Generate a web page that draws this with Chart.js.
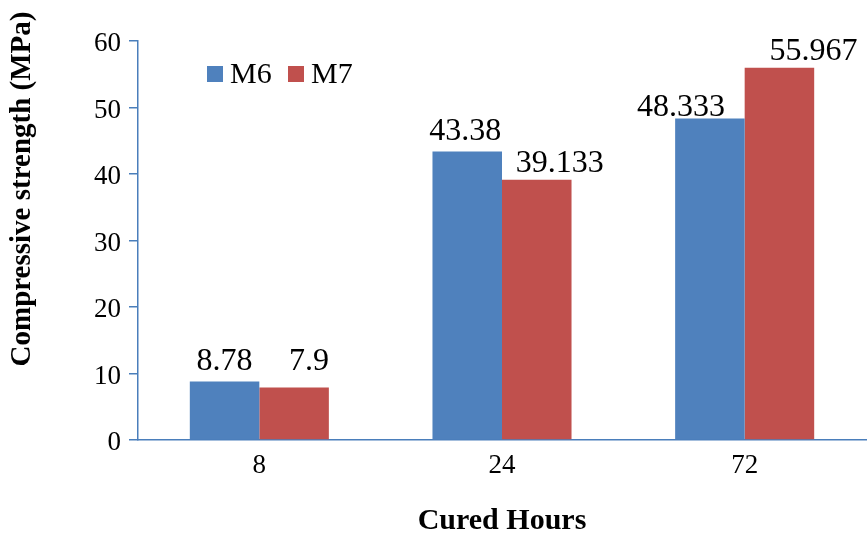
<!DOCTYPE html>
<html>
<head>
<meta charset="utf-8">
<script src="https://cdn.jsdelivr.net/npm/chart.js@4.4.1/dist/chart.umd.min.js"></script>
<style>
  html, body { margin: 0; padding: 0; background: #ffffff; }
  #wrap { width: 867px; height: 539px; }
</style>
</head>
<body>
<div id="wrap"><canvas id="c" width="867" height="539"></canvas></div>
<script>
// Curing time categories (hours)
const curedHours = ['8', '24', '72'];
// Compressive strength, MPa
const m6Values = [8.78, 43.38, 48.333];
const m7Values = [7.9, 39.133, 55.967];
// Printed value labels
const m6Labels = ['8.78', '43.38', '48.333'];
const m7Labels = ['7.9', '39.133', '55.967'];
// Y axis ticks
const yTicks = [0, 10, 20, 30, 40, 50, 60];

const SERIF = "'Liberation Serif', 'Times New Roman', serif";
const AXIS_BLUE = '#4A7EBB';
const BLUE = '#4F81BD';
const RED = '#C0504D';

// Nudges for the value labels (dx, gap above bar top), per series and category
const labelNudge = [
  [[0, 12], [-2, 12], [-29, 3]],
  [[15, 17], [23, 8], [34, 8]]
];
const seriesLabels = [m6Labels, m7Labels];

const valueLabels = {
  id: 'valueLabels',
  afterDatasetsDraw(chart) {
    const ctx = chart.ctx;
    ctx.save();
    ctx.font = '32px ' + SERIF;
    ctx.fillStyle = '#000000';
    ctx.textAlign = 'center';
    ctx.textBaseline = 'alphabetic';
    chart.data.datasets.forEach((ds, di) => {
      const meta = chart.getDatasetMeta(di);
      meta.data.forEach((bar, i) => {
        const [dx, gap] = labelNudge[di][i];
        ctx.fillText(seriesLabels[di][i], bar.x + dx, bar.y - gap);
      });
    });
    ctx.restore();
  }
};

// Legend placed inside the plot, top left
const insideLegend = {
  id: 'insideLegend',
  afterDraw(chart) {
    const ctx = chart.ctx;
    ctx.save();
    ctx.font = '30px ' + SERIF;
    ctx.textBaseline = 'middle';
    ctx.textAlign = 'left';
    const starts = [207, 288];
    chart.data.datasets.forEach((ds, di) => {
      const x = starts[di];
      ctx.fillStyle = ds.backgroundColor;
      ctx.fillRect(x, 66, 16, 16);
      ctx.fillStyle = '#000000';
      ctx.fillText(ds.label, x + 23, 75);
    });
    ctx.restore();
  }
};

// Vertical axis title, sitting a little above the middle of the axis
const yAxisTitle = {
  id: 'yAxisTitle',
  afterDraw(chart) {
    const ctx = chart.ctx;
    ctx.save();
    ctx.translate(23, 189);
    ctx.rotate(-Math.PI / 2);
    ctx.font = 'bold 29px ' + SERIF;
    ctx.fillStyle = '#000000';
    ctx.textAlign = 'center';
    ctx.textBaseline = 'middle';
    ctx.fillText('Compressive strength (MPa)', 0, 0);
    ctx.restore();
  }
};

new Chart(document.getElementById('c'), {
  type: 'bar',
  data: {
    labels: curedHours,
    datasets: [
      { label: 'M6', data: m6Values, backgroundColor: BLUE, borderWidth: 0 },
      { label: 'M7', data: m7Values, backgroundColor: RED, borderWidth: 0 }
    ]
  },
  options: {
    responsive: false,
    animation: false,
    devicePixelRatio: 1,
    categoryPercentage: 0.573,
    barPercentage: 1.0,
    layout: { padding: { top: 41, right: 1, left: 0, bottom: 0 } },
    plugins: {
      legend: { display: false },
      tooltip: { enabled: false }
    },
    scales: {
      x: {
        offset: true,
        grid: { display: false, drawTicks: false },
        border: { display: true, color: AXIS_BLUE, width: 1.5 },
        ticks: {
          color: '#000000',
          padding: 10,
          font: { family: SERIF, size: 27 }
        },
        title: {
          display: true,
          text: 'Cured Hours',
          color: '#000000',
          font: { family: SERIF, size: 30, weight: 'bold', lineHeight: 1.2 },
          padding: { top: 0, bottom: 0 }
        },
        afterFit(scale) { scale.height = 99; }
      },
      y: {
        min: 0,
        max: 60,
        afterBuildTicks(scale) { scale.ticks = yTicks.map(v => ({ value: v })); },
        grid: {
          display: true,
          drawOnChartArea: false,
          drawTicks: true,
          tickLength: 9,
          color: AXIS_BLUE,
          lineWidth: 1.5
        },
        border: { display: true, color: AXIS_BLUE, width: 1.5 },
        ticks: {
          color: '#000000',
          padding: 8,
          labelOffset: 3,
          font: { family: SERIF, size: 27 }
        },
        title: { display: false },
        afterFit(scale) { scale.width = 138; }
      }
    }
  },
  plugins: [valueLabels, insideLegend, yAxisTitle]
});
</script>
</body>
</html>
